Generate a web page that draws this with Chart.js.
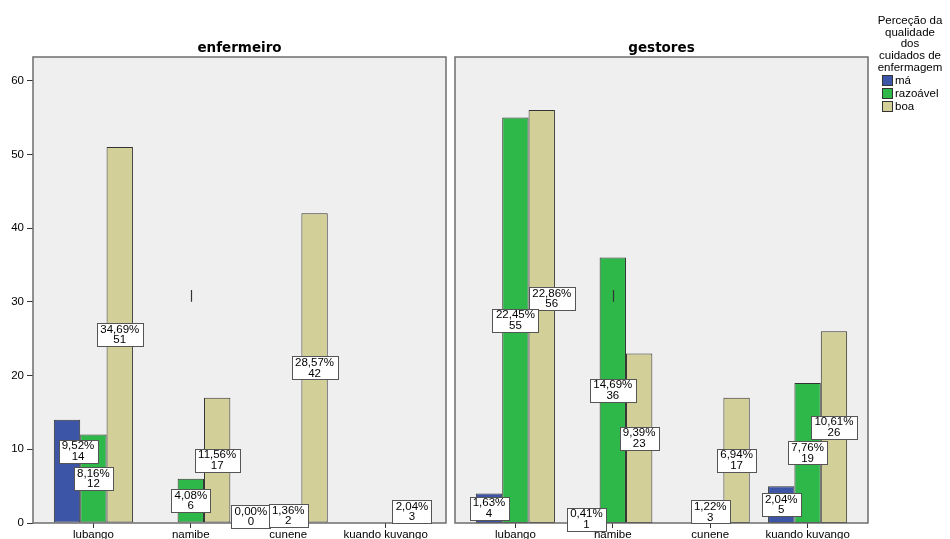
<!DOCTYPE html>
<html lang="pt">
<head>
<meta charset="utf-8">
<title>Perceção da qualidade dos cuidados de enfermagem</title>
<script src="https://cdn.jsdelivr.net/npm/chart.js@4.4.1/dist/chart.umd.min.js"></script>
<style>
  html, body { margin: 0; padding: 0; background: #fff; }
  .grafico { position: relative; width: 950px; height: 539px; overflow: hidden; font-family: "Liberation Sans", Arial, sans-serif; }
  #enfermeiro { position: absolute; left: 0; top: 0; }
  #gestores { position: absolute; left: 450px; top: 0; }
  .legenda { position: absolute; left: 868px; top: 15px; width: 84px; font-size: 11.5px; color: #000; }
  .legenda-titulo { text-align: center; line-height: 11.7px; }
  .legenda ul { list-style: none; margin: 0 0 0 14px; padding: 0; }
  .legenda li { height: 13px; line-height: 13px; display: flex; align-items: center; }
  .legenda .cor { width: 9px; height: 9px; border: 1px solid #333; margin-right: 2px; }
</style>
</head>
<body>
<div class="grafico">
  <canvas id="enfermeiro" width="450" height="539"></canvas>
  <canvas id="gestores" width="500" height="539"></canvas>
  <div class="legenda">
    <div class="legenda-titulo">Perceção da<br>qualidade<br>dos<br>cuidados de<br>enfermagem</div>
    <ul id="legendaItens"></ul>
  </div>
</div>
<script>
  "use strict";

  const categorias = ["lubango", "namibe", "cunene", "kuando kuvango"];
  const nomesSeries = ["má", "razoável", "boa"];
  const coresSeries = ["#3d55a6", "#2fb84a", "#d3cf98"];

  const enfermeiroMa = [14, null, 0, null];
  const enfermeiroRazoavel = [12, 6, 2, null];
  const enfermeiroBoa = [51, 17, 42, 3];

  const gestoresMa = [4, 1, null, 5];
  const gestoresRazoavel = [55, 36, 3, 19];
  const gestoresBoa = [56, 23, 17, 26];

  const ticksY = [0, 10, 20, 30, 40, 50, 60];
  const maxY = 63.2;

  // pequeno traço vertical sobre namibe (valores do eixo y)
  const tracoNamibe = [30, 31.6];

  const fonteTexto = "'Liberation Sans', Arial, sans-serif";
  const margemCategoria = 0.62;

  // fundo cinzento, moldura e título de cada painel
  const painel = {
    id: "painel",
    beforeDatasetsDraw(chart) {
      const { ctx, chartArea: a } = chart;
      ctx.save();
      ctx.fillStyle = "#efefef";
      ctx.fillRect(a.left, a.top, a.right - a.left, a.bottom - a.top);
      ctx.restore();
    },
    afterDatasetsDraw(chart, args, opts) {
      const { ctx, chartArea: a, scales } = chart;
      ctx.save();
      ctx.strokeStyle = "#6e6e6e";
      ctx.lineWidth = 1.5;
      ctx.strokeRect(a.left, a.top, a.right - a.left, a.bottom - a.top);

      const xt = Math.round(scales.x.getPixelForValue(categorias.indexOf("namibe"))) + 0.5;
      ctx.strokeStyle = "#333";
      ctx.lineWidth = 1.2;
      ctx.beginPath();
      ctx.moveTo(xt, scales.y.getPixelForValue(tracoNamibe[0]));
      ctx.lineTo(xt, scales.y.getPixelForValue(tracoNamibe[1]));
      ctx.stroke();

      ctx.fillStyle = "#000";
      ctx.font = "bold 13.5px 'DejaVu Sans', sans-serif";
      ctx.textAlign = "center";
      ctx.textBaseline = "alphabetic";
      ctx.fillText(opts.titulo, (a.left + a.right) / 2, 52);
      ctx.restore();
    },
  };

  // caixas brancas com a percentagem e a contagem de cada barra
  const rotulosBarras = {
    id: "rotulosBarras",
    afterDatasetsDraw(chart, args, opts) {
      const ctx = chart.ctx;
      let total = 0;
      chart.data.datasets.forEach((ds) => ds.data.forEach((v) => { if (v !== null) total += v; }));

      ctx.save();
      ctx.font = "11.5px " + fonteTexto;
      ctx.textAlign = "center";
      ctx.textBaseline = "middle";
      [0, 2, 1].forEach((d) => {
        const meta = chart.getDatasetMeta(d);
        chart.data.datasets[d].data.forEach((v, i) => {
          if (v === null) return;
          const bar = meta.data[i];
          const aj = (opts.ajustes || {})[d + "-" + i] || [0, 0];
          const x = bar.x + aj[0];
          const y = (bar.y + bar.base) / 2 + aj[1];
          const pct = ((v / total) * 100).toFixed(2).replace(".", ",") + "%";
          const w = Math.ceil(Math.max(ctx.measureText(pct).width, ctx.measureText(String(v)).width)) + 6;
          const h = 23;
          const bx = Math.round(x - w / 2) + 0.5;
          const by = Math.round(y - h / 2) + 0.5;
          ctx.fillStyle = "#fff";
          ctx.fillRect(bx, by, w, h);
          ctx.strokeStyle = "#555";
          ctx.lineWidth = 1;
          ctx.strokeRect(bx, by, w, h);
          ctx.fillStyle = "#000";
          ctx.fillText(pct, x, y - 5);
          ctx.fillText(String(v), x, y + 5.5);
        });
      });
      ctx.restore();
    },
  };

  function criarPainel(elementId, titulo, ma, razoavel, boa, comEixoY, padding, ajustes) {
    const valores = [ma, razoavel, boa];

    return new Chart(document.getElementById(elementId), {
      type: "bar",
      data: {
        labels: categorias,
        datasets: nomesSeries.map((nome, k) => ({
          label: nome,
          data: valores[k],
          backgroundColor: coresSeries[k],
          borderColor: "#333",
          borderWidth: 1,
          borderSkipped: false,
          categoryPercentage: 0.812,
          barPercentage: 1,
        })),
      },
      options: {
        responsive: false,
        animation: false,
        layout: { padding: padding },
        plugins: {
          legend: { display: false },
          tooltip: { enabled: false },
          painel: { titulo: titulo },
          rotulosBarras: { ajustes: ajustes },
        },
        scales: {
          x: {
            type: "category",
            offset: true,
            afterBuildTicks: (s) => {
              s._startValue = -margemCategoria;
              s._valueRange = categorias.length - 1 + 2 * margemCategoria;
            },
            afterFit: (s) => { s.height = 16; },
            grid: { offset: false, drawOnChartArea: false, tickLength: 5, color: "#333" },
            border: { display: false },
            ticks: {
              autoSkip: false,
              maxRotation: 0,
              padding: 0,
              color: "#000",
              font: { family: fonteTexto, size: 11.5 },
            },
          },
          y: {
            display: comEixoY,
            min: 0,
            max: maxY,
            afterBuildTicks: (s) => { s.ticks = ticksY.map((v) => ({ value: v })); },
            afterFit: (s) => { s.width = comEixoY ? 33 : 0; },
            grid: { drawOnChartArea: false, tickLength: 6, color: "#333" },
            border: { display: false },
            ticks: {
              padding: 3,
              color: "#000",
              font: { family: fonteTexto, size: 11.5 },
            },
          },
        },
      },
      plugins: [painel, rotulosBarras],
    });
  }

  criarPainel("enfermeiro", "enfermeiro", enfermeiroMa, enfermeiroRazoavel, enfermeiroBoa, true,
    { top: 57, right: 4, left: 0, bottom: 0 },
    { "0-0": [11, -20], "0-2": [-11, -6.5] });

  criarPainel("gestores", "gestores", gestoresMa, gestoresRazoavel, gestoresBoa, false,
    { top: 57, right: 82, left: 5, bottom: 0 },
    { "2-0": [10, -18] });

  // legenda
  const lista = document.getElementById("legendaItens");
  nomesSeries.forEach((nome, k) => {
    const li = document.createElement("li");
    const cor = document.createElement("span");
    cor.className = "cor";
    cor.style.background = coresSeries[k];
    li.appendChild(cor);
    li.appendChild(document.createTextNode(nome));
    lista.appendChild(li);
  });
</script>
</body>
</html>
